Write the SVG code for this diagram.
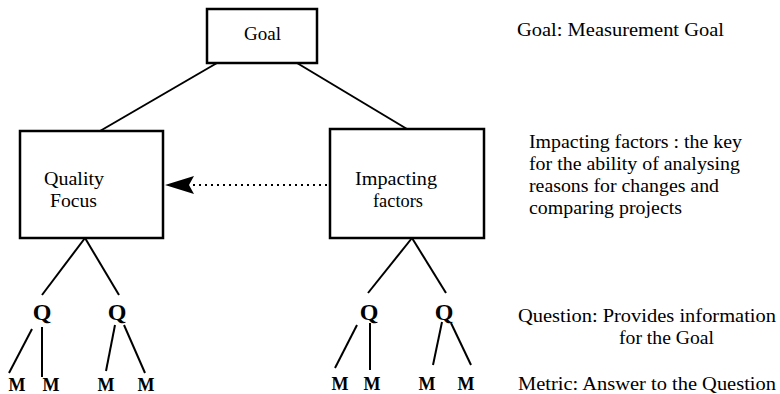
<svg xmlns="http://www.w3.org/2000/svg" width="780" height="394" viewBox="0 0 780 394">
  <style>
    .box { fill: #ffffff; stroke: #000000; stroke-width: 2.5; }
    .edge { fill: none; stroke: #000000; stroke-width: 2; }
    .dot { fill: none; stroke: #000000; stroke-width: 2; stroke-dasharray: 2 4; }
    text { font-family: "Liberation Serif", "Times New Roman", serif; fill: #000000; }
    .lbl { font-size: 18px; }
    .q { font-size: 24px; font-weight: bold; }
    .m { font-size: 18px; font-weight: bold; }
  </style>
  <defs>
    <marker id="ah" viewBox="0 0 30 18" refX="29" refY="9" markerWidth="30" markerHeight="18" markerUnits="userSpaceOnUse" orient="auto">
      <path d="M0,0 L29,9 L0,18 L5,9 Z" fill="#000000"/>
    </marker>
  </defs>
  <rect width="780" height="394" fill="#ffffff"/>

  <g id="connectors">
    <line class="edge" x1="217" y1="63" x2="100" y2="131"/>
    <line class="edge" x1="297" y1="63" x2="407" y2="129"/>
    <line class="edge" x1="85" y1="238" x2="42" y2="295"/>
    <line class="edge" x1="85" y1="238" x2="119" y2="295"/>
    <line class="edge" x1="32" y1="329" x2="9" y2="373"/>
    <line class="edge" x1="42" y1="327" x2="42" y2="377"/>
    <line class="edge" x1="115" y1="325" x2="106" y2="371"/>
    <line class="edge" x1="124" y1="325" x2="145" y2="373"/>
    <line class="edge" x1="412" y1="238" x2="368" y2="293"/>
    <line class="edge" x1="412" y1="238" x2="446" y2="293"/>
    <line class="edge" x1="357" y1="325" x2="335" y2="368"/>
    <line class="edge" x1="370" y1="323" x2="370" y2="370"/>
    <line class="edge" x1="442" y1="322" x2="433" y2="365"/>
    <line class="edge" x1="451" y1="323" x2="471" y2="365"/>
    <line class="dot" x1="327" y1="185" x2="165" y2="185" marker-end="url(#ah)"/>
  </g>

  <g id="goal">
    <rect class="box" x="207" y="9" width="110" height="54"/>
    <text class="lbl" x="244" y="40" textLength="37" lengthAdjust="spacingAndGlyphs">Goal</text>
  </g>
  <g id="quality-focus">
    <rect class="box" x="20" y="131" width="143" height="107"/>
    <text class="lbl" x="44" y="185" textLength="60" lengthAdjust="spacingAndGlyphs">Quality</text>
    <text class="lbl" x="50" y="207" textLength="47" lengthAdjust="spacingAndGlyphs">Focus</text>
  </g>
  <g id="impacting-factors">
    <rect class="box" x="330" y="129" width="154" height="109"/>
    <text class="lbl" x="355" y="185" textLength="82" lengthAdjust="spacingAndGlyphs">Impacting</text>
    <text class="lbl" x="373" y="207" textLength="50" lengthAdjust="spacingAndGlyphs">factors</text>
  </g>

  <g id="q-left-1"><text class="q" x="42" y="320" text-anchor="middle">Q</text></g>
  <g id="q-left-2"><text class="q" x="117" y="320" text-anchor="middle">Q</text></g>
  <g id="q-right-1"><text class="q" x="369" y="320" text-anchor="middle">Q</text></g>
  <g id="q-right-2"><text class="q" x="444" y="320" text-anchor="middle">Q</text></g>

  <g id="m-1"><text class="m" x="17" y="391" text-anchor="middle">M</text></g>
  <g id="m-2"><text class="m" x="51" y="391" text-anchor="middle">M</text></g>
  <g id="m-3"><text class="m" x="106" y="391" text-anchor="middle">M</text></g>
  <g id="m-4"><text class="m" x="146" y="391" text-anchor="middle">M</text></g>
  <g id="m-5"><text class="m" x="340" y="390" text-anchor="middle">M</text></g>
  <g id="m-6"><text class="m" x="372" y="390" text-anchor="middle">M</text></g>
  <g id="m-7"><text class="m" x="427" y="390" text-anchor="middle">M</text></g>
  <g id="m-8"><text class="m" x="466" y="390" text-anchor="middle">M</text></g>

  <g id="legend">
    <text class="lbl" x="517" y="36" textLength="207" lengthAdjust="spacingAndGlyphs">Goal: Measurement Goal</text>
    <text class="lbl" x="529" y="148" textLength="213" lengthAdjust="spacingAndGlyphs">Impacting factors : the key</text>
    <text class="lbl" x="529" y="170" textLength="211" lengthAdjust="spacingAndGlyphs">for the ability of analysing</text>
    <text class="lbl" x="529" y="192" textLength="190" lengthAdjust="spacingAndGlyphs">reasons for changes and</text>
    <text class="lbl" x="529" y="214" textLength="153" lengthAdjust="spacingAndGlyphs">comparing projects</text>
    <text class="lbl" x="518" y="322" textLength="258" lengthAdjust="spacingAndGlyphs">Question: Provides information</text>
    <text class="lbl" x="619" y="344" textLength="95" lengthAdjust="spacingAndGlyphs">for the Goal</text>
    <text class="lbl" x="518" y="390" textLength="258" lengthAdjust="spacingAndGlyphs">Metric: Answer to the Question</text>
  </g>
</svg>
